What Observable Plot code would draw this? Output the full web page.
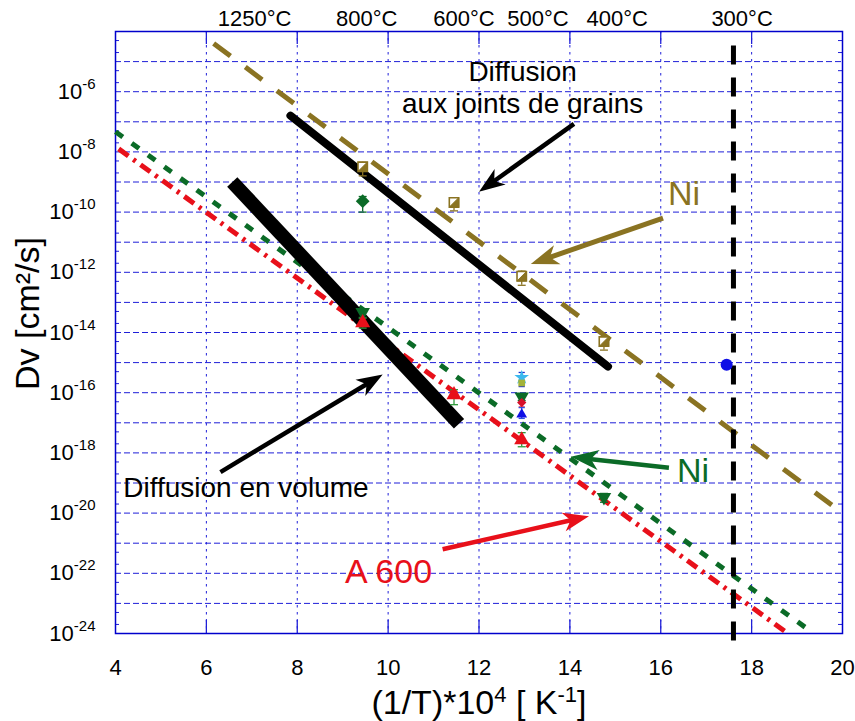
<!DOCTYPE html>
<html><head><meta charset="utf-8">
<script src="https://cdn.jsdelivr.net/npm/d3@7"></script>
<script src="https://cdn.jsdelivr.net/npm/@observablehq/plot@0.6"></script>
<style>html,body{margin:0;padding:0;background:#fff}svg{display:block}</style>
</head><body><div id="chart"></div>
<script>
// ---------- axis ticks / labels ----------
const xTicks = [4, 6, 8, 10, 12, 14, 16, 18, 20];
const xGrid = [6, 8, 10, 12, 14, 16, 18];
const yGrid = [1e-24,1e-23,1e-22,1e-21,1e-20,1e-19,1e-18,1e-17,1e-16,1e-15,1e-14,1e-13,1e-12,1e-11,1e-10,1e-9,1e-8,1e-7,1e-6,1e-5,1e-4];
const yTickVals = [1e-24,1e-22,1e-20,1e-18,1e-16,1e-14,1e-12,1e-10,1e-8,1e-6];
const yMinor = [];
for (const v of yGrid.slice(0, -1)) yMinor.push(2 * v, 5 * v);
const tempLabels = ["1250°C", "800°C", "600°C", "500°C", "400°C", "300°C"];
const tempLabelX = [7.06, 9.53, 11.67, 13.3, 15.04, 17.79];

// ---------- lines (two end points each) ----------
const niGbX = [6.16, 20],   niGbD = [4.0e-5, 1e-20];     // Ni, olive dashed
const niVolX = [4, 19.37],  niVolD = [4.7e-8, 1e-24];    // Ni, green dotted
const a600X = [4.07, 18.8], a600D = [1.26e-8, 1e-24];    // A 600, red dash-dot
const gbX = [7.85, 14.84],  gbD = [1.6e-7, 7.4e-16];     // grain boundary diffusion
const volX = [6.57, 11.56], volD = [1.0e-9, 9.3e-18];    // volume diffusion
const t300X = [17.6, 17.6], t300D = [3.4e-5, 3.4e-25];   // 300°C marker line

// ---------- measured points ----------
const olvX = [9.44, 11.45, 12.94, 14.75];
const olvD = [3.2e-9, 2.1e-10, 7.4e-13, 5.0e-15];
const olvLo = [1.6e-9, 1.1e-10, 3.7e-13, 2.6e-15];
const olvHi = [4.5e-9, 3.0e-10, 1.1e-12, 7.0e-15];

const gDiaX = [9.44], gDiaD = [2.3e-10], gDiaLo = [1.0e-10], gDiaHi = [3.3e-10];

const gTriX = [9.44, 12.94, 14.75];
const gTriD = [4.7e-14, 7.4e-17, 3.4e-20];
const gTriLo = [3.2e-14, 5.5e-17, 2.3e-20];
const gTriHi = [6.0e-14, 9.0e-17, 4.5e-20];

const rTriX = [9.44, 11.45, 12.94];
const rTriD = [2.1e-14, 8.5e-17, 2.7e-18];
const rTriLo = [1.4e-14, 4.0e-17, 1.6e-18];
const rTriHi = [3.0e-14, 1.26e-16, 4.7e-18];

const rDiaX = [12.94], rDiaD = [4.7e-17], rDiaLo = [3.4e-17], rDiaHi = [5.9e-17];
const bTriX = [12.94], bTriD = [1.9e-17], bTriLo = [1.4e-17], bTriHi = [3.2e-17];
const cStarX = [12.94], cStarD = [3.2e-16], cStarLo = [1.6e-16], cStarHi = [4.7e-16];
const ygSqX = [12.94], ygSqD = [2.1e-16];
const bDotX = [17.45], bDotD = [8.5e-16];

// ---------- arrows ----------
const arrX1 = [14.09, 16.05, 6.31, 16.18, 11.2];
const arrD1 = [8.5e-8, 6.3e-11, 2.3e-19, 3.2e-19, 6.3e-22];
const arrX2 = [12.0, 13.14, 9.88, 14.02, 14.42];
const arrD2 = [4.7e-10, 1.9e-12, 4.0e-16, 7.4e-19, 7.9e-21];

// ---------- annotations ----------
const annText = ["Diffusion\naux joints de grains", "Ni", "Ni", "A 600", "Diffusion en volume"];
const annX = [12.96, 16.51, 16.71, 10.01, 6.87];
const annD = [1.48e-6, 4.0e-10, 2.5e-19, 1.07e-22, 6.8e-20];

// ---------- styles ----------
const FONT = "'Liberation Sans', Arial, Helvetica, sans-serif";
const olive = "#8a7322", green = "#0b6b27", red = "#e8101a", blue = "#1010e6";
const gridColor = "#1f1fd8";
const W = 855, H = 721, ML = 115, MR = 13, MT = 31, MB = 88;
const pts = (xs, ds) => xs.map((x, i) => ({x, d: ds[i]}));
const errs = (xs, lo, hi) => xs.map((x, i) => ({x, lo: lo[i], hi: hi[i]}));

// same scales as the chart, used to orient the filled arrow heads
const sx = Plot.scale({x: {domain: [4, 20], range: [ML, W - MR]}});
const sy = Plot.scale({y: {type: "log", domain: [1e-24, 1e-4], range: [H - MB, MT]}});

const capSym = {draw(ctx, size) { const w = Math.sqrt(size); ctx.moveTo(-w / 2, 0); ctx.lineTo(w / 2, 0); }};
const downTri = {draw(ctx, size) {
  const y = Math.sqrt(size / (Math.sqrt(3) * 3)), s3 = Math.sqrt(3);
  ctx.moveTo(0, 2 * y); ctx.lineTo(-s3 * y, -y); ctx.lineTo(s3 * y, -y); ctx.closePath(); }};
const halfSq = {draw(ctx, size) { const h = Math.sqrt(size) / 2;
  ctx.moveTo(h, -h); ctx.lineTo(h, h); ctx.lineTo(-h, h); ctx.closePath(); }};
function headSym(i, L, Wd) {
  const a = Math.atan2(sy.apply(arrD2[i]) - sy.apply(arrD1[i]), sx.apply(arrX2[i]) - sx.apply(arrX1[i]));
  const c = Math.cos(a), s = Math.sin(a);
  const pt = (u, v) => [u * c - v * s, u * s + v * c];
  return {draw(ctx) {
    ctx.moveTo(0, 0);
    ctx.lineTo(...pt(-L, Wd)); ctx.lineTo(...pt(-0.72 * L, 0)); ctx.lineTo(...pt(-L, -Wd));
    ctx.closePath();
  }};
}

function errMarks(xs, lo, hi, color, capR = 4.5) {
  const e = errs(xs, lo, hi);
  return [
    Plot.ruleX(e, {x: "x", y1: "lo", y2: "hi", stroke: color, strokeWidth: 1.3}),
    Plot.dot(e, {x: "x", y: "lo", symbol: capSym, r: capR, stroke: color, fill: "none", strokeWidth: 1.3}),
    Plot.dot(e, {x: "x", y: "hi", symbol: capSym, r: capR, stroke: color, fill: "none", strokeWidth: 1.3})
  ];
}
function arrow(i, color, sw, L = 26, Wd = 9.5) {
  return [
    Plot.arrow([i], {x1: j => arrX1[j], y1: j => arrD1[j], x2: j => arrX2[j], y2: j => arrD2[j],
      stroke: color, strokeWidth: sw, headLength: 0, insetEnd: 14, strokeLinecap: "butt"}),
    Plot.dot([i], {x: j => arrX2[j], y: j => arrD2[j], symbol: headSym(i, L, Wd), r: 5, fill: color, stroke: "none"})
  ];
}

const chart = Plot.plot({
  width: W, height: H,
  marginLeft: ML, marginRight: MR, marginTop: MT, marginBottom: MB,
  style: {fontFamily: FONT, fontSize: "22px", color: "black", background: "white", overflow: "visible"},
  x: {domain: [4, 20], label: null},
  y: {type: "log", domain: [1e-24, 1e-4], label: null},
  marks: [
    Plot.ruleY(yGrid, {stroke: gridColor, strokeDasharray: "6,3", strokeWidth: 1}),
    Plot.ruleX(xGrid, {stroke: gridColor, strokeDasharray: "2.5,4.5", strokeWidth: 1}),
    Plot.ruleX(xGrid, {stroke: gridColor, strokeWidth: 1.3, insetTop: 589}),
    Plot.ruleX(xGrid, {stroke: gridColor, strokeWidth: 1.3, insetBottom: 589}),
    Plot.ruleY(yMinor, {stroke: gridColor, strokeWidth: 1, insetRight: 723}),
    Plot.ruleY(yMinor, {stroke: gridColor, strokeWidth: 1, insetLeft: 723}),
    Plot.frame({stroke: "#0000cc", strokeWidth: 1.5}),

    Plot.axisX(xTicks, {anchor: "bottom", tickSize: 0, tickPadding: 26, label: null, tickFormat: d => String(d), fontSize: 22}),
    Plot.axisX(tempLabelX, {anchor: "top", tickSize: 0, tickPadding: 6, label: null, tickFormat: (d) => tempLabels[tempLabelX.indexOf(d)], fontSize: 22}),
    Plot.axisY(yTickVals, {anchor: "left", tickSize: 0, tickPadding: 20, label: null, tickFormat: d => String(Math.round(Math.log10(d))), fontSize: 22}),

    // fitted lines
    Plot.line(pts(niGbX, niGbD), {x: "x", y: "d", stroke: olive, strokeWidth: 5, strokeDasharray: "21,18.5", strokeLinecap: "butt"}),
    Plot.line(pts(niVolX, niVolD), {x: "x", y: "d", stroke: green, strokeWidth: 5, strokeDasharray: "9,11", strokeLinecap: "butt"}),
    Plot.line(pts(a600X, a600D), {x: "x", y: "d", stroke: red, strokeWidth: 5, strokeDasharray: "12,6,3,6", strokeLinecap: "butt"}),
    Plot.line(pts(gbX, gbD), {x: "x", y: "d", stroke: "black", strokeWidth: 8, strokeLinecap: "round"}),
    Plot.line(pts(volX, volD), {x: "x", y: "d", stroke: "black", strokeWidth: 14, strokeLinecap: "butt"}),
    Plot.line(pts(t300X, t300D), {x: "x", y: "d", stroke: "black", strokeWidth: 5, strokeDasharray: "19,13", strokeLinecap: "butt"}),

    // error bars
    ...errMarks(olvX, olvLo, olvHi, olive),
    ...errMarks(gDiaX, gDiaLo, gDiaHi, green),
    ...errMarks(gTriX, gTriLo, gTriHi, green),
    ...errMarks(rTriX, rTriLo, rTriHi, "#2e9a3a"),
    ...errMarks(cStarX, cStarLo, cStarHi, "#1c2fd0", 3.5),
    ...errMarks(rDiaX, rDiaLo, rDiaHi, "#e0506a", 3.5),
    ...errMarks(bTriX, bTriLo, bTriHi, "#3050e0", 3.5),

    // markers
    Plot.dot(pts(olvX, olvD), {x: "x", y: "d", symbol: "square", r: 5.3, fill: "white", stroke: olive, strokeWidth: 1.6}),
    Plot.dot(pts(olvX, olvD), {x: "x", y: "d", symbol: halfSq, r: 5.3, fill: olive, stroke: olive, strokeWidth: 1}),
    Plot.dot(pts(gDiaX, gDiaD), {x: "x", y: "d", symbol: "diamond2", r: 6.2, fill: green}),
    Plot.dot(pts(gTriX, gTriD), {x: "x", y: "d", symbol: downTri, r: 5.4, fill: green}),
    Plot.dot(pts(rTriX, rTriD), {x: "x", y: "d", symbol: "triangle", r: 5.6, fill: red}),
    Plot.dot(pts(cStarX, cStarD), {x: "x", y: "d", symbol: "star", r: 4.6, fill: "#3bb8ee"}),
    Plot.dot(pts(ygSqX, ygSqD), {x: "x", y: "d", symbol: "square", r: 3.8, fill: "#a3b33a"}),
    Plot.dot(pts(rDiaX, rDiaD), {x: "x", y: "d", symbol: "diamond2", r: 4.2, fill: "#d8102a"}),
    Plot.dot(pts(bTriX, bTriD), {x: "x", y: "d", symbol: "triangle", r: 4, fill: blue}),
    Plot.dot(pts(bDotX, bDotD), {x: "x", y: "d", r: 6, fill: blue}),

    // arrows
    ...arrow(0, "black", 4.5),
    ...arrow(1, olive, 5, 28, 10),
    ...arrow(2, "black", 4.5),
    ...arrow(3, green, 4.5, 28, 10),
    ...arrow(4, red, 4.5),

    // annotations
    Plot.text([0], {x: i => annX[i], y: i => annD[i], text: i => annText[i], fontSize: 28, lineHeight: 1.15, fill: "black"}),
    Plot.text([1], {x: i => annX[i], y: i => annD[i], text: i => annText[i], fontSize: 34, fill: olive}),
    Plot.text([2], {x: i => annX[i], y: i => annD[i], text: i => annText[i], fontSize: 34, fill: green}),
    Plot.text([3], {x: i => annX[i], y: i => annD[i], text: i => annText[i], fontSize: 34, fill: red}),
    Plot.text([4], {x: i => annX[i], y: i => annD[i], text: i => annText[i], fontSize: 28, fill: "black"}),

    // axis titles
    Plot.text(["(1/T)*10|4| [ K|-1|]"], {frameAnchor: "bottom", dy: 80, fontSize: 34, className: "xtitle"}),
    Plot.text(["Dv [cm²/s]"], {frameAnchor: "left", textAnchor: "middle", dx: -87, dy: -19, rotate: -90, fontSize: 34, className: "ytitle"})
  ]
});

// superscripts for log tick labels
d3.select(chart).selectAll('g[aria-label="y-axis tick label"] text').each(function () {
  const e = this.textContent.trim();
  const t = d3.select(this);
  t.text(null);
  t.append("tspan").text("10");
  t.append("tspan").attr("dy", -10).attr("font-size", "15px").text(e);
});
// superscripts in x title
d3.select(chart).selectAll(".xtitle text").each(function () {
  const parts = this.textContent.split("|");
  const t = d3.select(this);
  t.text(null);
  parts.forEach((p, i) => {
    const sp = t.append("tspan").text(p);
    if (i % 2 === 1) sp.attr("font-size", "22px").attr("dy", -12);
    else if (i > 0) sp.attr("dy", 12);
  });
});

document.getElementById("chart").appendChild(chart);
</script>
</body></html>
